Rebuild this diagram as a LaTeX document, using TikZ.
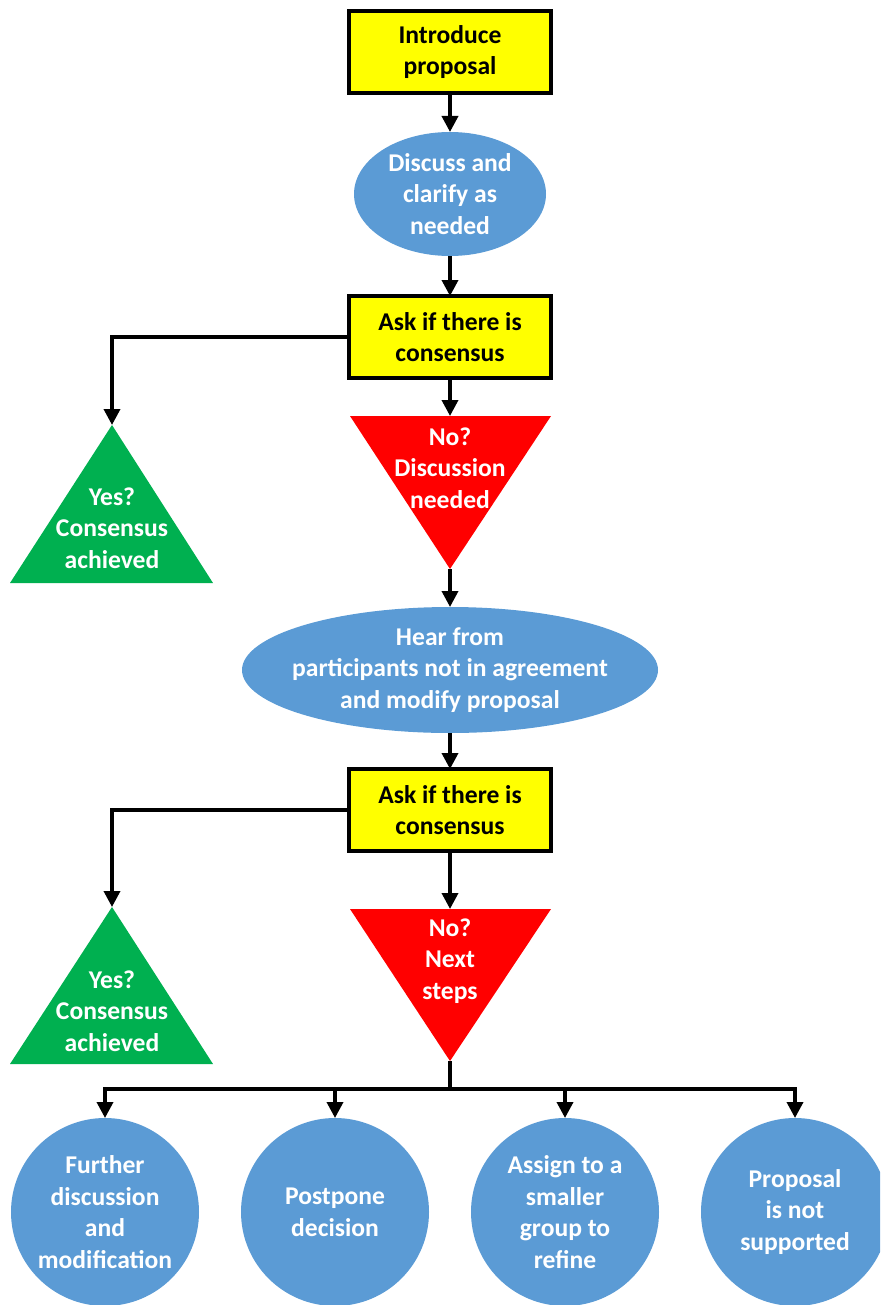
\documentclass[tikz,border=0pt]{standalone}
\usepackage{fontspec}
\setmainfont{Carlito}
\usetikzlibrary{shapes.geometric,arrows.meta}

\definecolor{askyellow}{HTML}{FFFF00}
\definecolor{stepblue}{HTML}{5B9BD5}
\definecolor{yesgreen}{HTML}{00B050}
\definecolor{nored}{HTML}{FF0000}

\tikzset{
  txt/.style={font=\fontsize{12.8}{15.8}\selectfont\bfseries, align=center, inner sep=0pt},
  wtxt/.style={txt, text=white},
  askbox/.style={txt, draw=black, line width=2pt, fill=askyellow, minimum width=101pt, minimum height=41pt, outer sep=0pt},
  blob/.style={ellipse, fill=stepblue, inner sep=0pt, outer sep=0pt},
  conn/.style={line width=1.8pt, -{Triangle[width=8pt,length=8pt]}}
}

\begin{document}
\begin{tikzpicture}[x=0.5pt, y=-0.5pt]

    \useasboundingbox (0,0) rectangle (880,1305);
    \clip (0,0) rectangle (880,1305);

    % First round
    \node[askbox] (intro) at (450,52) {Introduce\\proposal};

    \node[blob, minimum width=96pt, minimum height=62pt] (discuss) at (450,194) {};
    \node[wtxt] (discusstxt) at (discuss) {Discuss and\\clarify as\\needed};

    \node[askbox] (ask1) at (450,337) {Ask if there is\\consensus};

    % Yes? 1
    \coordinate (yes1) at (112,425);
    \fill[yesgreen] (yes1) -- (213,583) -- (10,583) -- cycle;
    \node[wtxt] (yes1txt) at (112,528) {Yes?\\Consensus\\achieved};

    % No? 1
    \coordinate (no1) at (450,416);
    \coordinate (no1tip) at (450,569);
    \fill[nored] (350,416) -- (551,416) -- (no1tip) -- cycle;
    \node[wtxt] (no1txt) at (450,468) {No?\\Discussion\\needed};

    % Second round
    \node[blob, minimum width=208pt, minimum height=63pt] (hear) at (450,670) {};
    \node[wtxt] (heartxt) at (hear) {Hear from\\participants not in agreement\\and modify proposal};

    \node[askbox] (ask2) at (450,810) {Ask if there is\\consensus};

    % Yes? 2
    \coordinate (yes2) at (112,907);
    \fill[yesgreen] (yes2) -- (213,1064) -- (10,1064) -- cycle;
    \node[wtxt] (yes2txt) at (112,1011) {Yes?\\Consensus\\achieved};

    % No? 2
    \coordinate (no2) at (450,909);
    \coordinate (no2tip) at (450,1061);
    \fill[nored] (350,909) -- (551,909) -- (no2tip) -- cycle;
    \node[wtxt] (no2txt) at (450,961) {No?\\Next\\steps};

    % Next steps
    \coordinate (split) at (450,1089);
    \node[blob, minimum width=94pt, minimum height=94pt] (further) at (105,1212) {};
    \node[wtxt] (furthertxt) at (further) {Further\\discussion\\and\\modification};
    \node[blob, minimum width=94pt, minimum height=94pt] (postpone) at (335,1212) {};
    \node[wtxt] (postponetxt) at (postpone) {Postpone\\decision};
    \node[blob, minimum width=94pt, minimum height=94pt] (assign) at (565,1212) {};
    \node[wtxt] (assigntxt) at (assign) {Assign to a\\smaller\\group to\\refine};
    \node[blob, minimum width=94pt, minimum height=94pt] (unsupported) at (795,1212) {};
    \node[wtxt] (unsupportedtxt) at (unsupported) {Proposal\\is not\\supported};

    % Connectors
    \draw[conn] (intro) -- (discuss);
    \draw[conn] (discuss) -- (ask1);
    \draw[conn] (ask1.west) -| (yes1);
    \draw[conn] (ask1) -- (no1);
    \draw[conn] (no1tip) -- (hear);
    \draw[conn] (hear) -- (ask2);
    \draw[conn] (ask2.west) -| (yes2);
    \draw[conn] (ask2) -- (no2);
    \draw[line width=1.8pt] (no2tip) -- (split);
    \foreach \c in {further, postpone, assign, unsupported}
        \draw[conn] (split) -| (\c);

\end{tikzpicture}
\end{document}
